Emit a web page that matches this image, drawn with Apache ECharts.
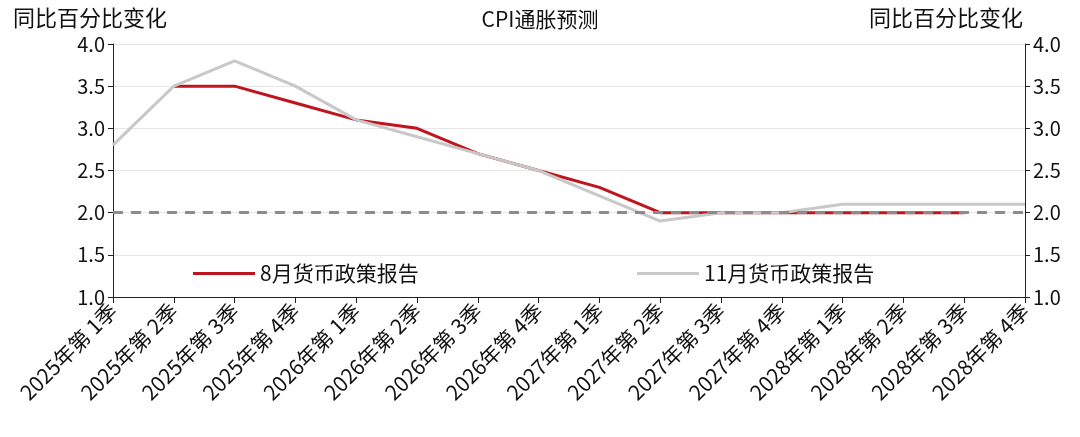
<!DOCTYPE html>
<html><head><meta charset="utf-8">
<script src="https://cdn.jsdelivr.net/npm/echarts@6/dist/echarts.min.js"></script>
<style>html,body{margin:0;padding:0;background:#fff}#c{width:1080px;height:437px}</style>
</head><body><div id="c"></div>
<script>
const categories = ['2025年第 1季','2025年第 2季','2025年第 3季','2025年第 4季','2026年第 1季','2026年第 2季','2026年第 3季','2026年第 4季','2027年第 1季','2027年第 2季','2027年第 3季','2027年第 4季','2028年第 1季','2028年第 2季','2028年第 3季','2028年第 4季'];
const augReport = ['-', 3.5, 3.5, 3.3, 3.1, 3.0, 2.7, 2.5, 2.3, 2.0, 2.0, 2.0, 2.0, 2.0, 2.0, '-'];
const novReport = [2.8, 3.5, 3.8, 3.5, 3.1, 2.9, 2.7, 2.5, 2.2, 1.9, 2.0, 2.0, 2.1, 2.1, 2.1, 2.1];
const target = 2.0;

const font = '"Noto Sans CJK SC", "Noto Sans", sans-serif';
const chart = echarts.init(document.getElementById('c'));
const yAxisBase = {
  type: 'value', min: 1, max: 4, interval: 0.5,
  axisLine: { show: true, lineStyle: { color: '#222' } },
  axisTick: { show: true, length: 5, lineStyle: { color: '#222' } },
  axisLabel: { color: '#111', fontSize: 20, fontFamily: font, formatter: v => v.toFixed(1) },
  splitLine: { show: true, lineStyle: { color: '#e6e6e6' } }
};
chart.setOption({
  animation: false,
  textStyle: { fontFamily: font },
  title: [
    { text: 'CPI通胀预测', left: 'center', top: 4, textStyle: { fontSize: 21, fontWeight: 'normal', color: '#111', fontFamily: font } },
    { text: '同比百分比变化', left: 8, top: 2, textStyle: { fontSize: 22, fontWeight: 'normal', color: '#111', fontFamily: font } },
    { text: '同比百分比变化', right: 52, top: 2, textStyle: { fontSize: 22, fontWeight: 'normal', color: '#111', fontFamily: font } }
  ],
  legend: [
    { data: ['8月货币政策报告'], left: 188, top: 258, itemWidth: 62, itemHeight: 3, icon: 'rect', textStyle: { fontSize: 21, color: '#111', fontFamily: font } },
    { data: ['11月货币政策报告'], left: 632, top: 258, itemWidth: 62, itemHeight: 3, icon: 'rect', textStyle: { fontSize: 21, color: '#111', fontFamily: font } }
  ],
  grid: { left: 113, right: 55, top: 44, bottom: 140 },
  xAxis: {
    type: 'category', data: categories, boundaryGap: false,
    axisLine: { lineStyle: { color: '#222' } },
    axisTick: { show: true, length: 6, alignWithLabel: true, lineStyle: { color: '#222' } },
    axisLabel: { rotate: 45, interval: 0, color: '#111', fontSize: 21, fontFamily: font, margin: 10 }
  },
  yAxis: [
    Object.assign({}, yAxisBase, { position: 'left' }),
    Object.assign({}, yAxisBase, { position: 'right', splitLine: { show: false } })
  ],
  series: [
    { name: '8月货币政策报告', type: 'line', data: augReport, symbol: 'none', z: 3,
      lineStyle: { color: '#c0141e', width: 3 }, itemStyle: { color: '#c0141e' } },
    { name: '11月货币政策报告', type: 'line', data: novReport, symbol: 'none', z: 4,
      lineStyle: { color: '#c8c8c8', width: 3 }, itemStyle: { color: '#c8c8c8' } },
    { name: 'target', type: 'line', data: [], z: 5,
      markLine: { silent: true, symbol: 'none', label: { show: false },
        lineStyle: { color: '#8c8c8c', type: [10, 8], width: 3 }, data: [{ yAxis: target }] } }
  ]
});
</script></body></html>
